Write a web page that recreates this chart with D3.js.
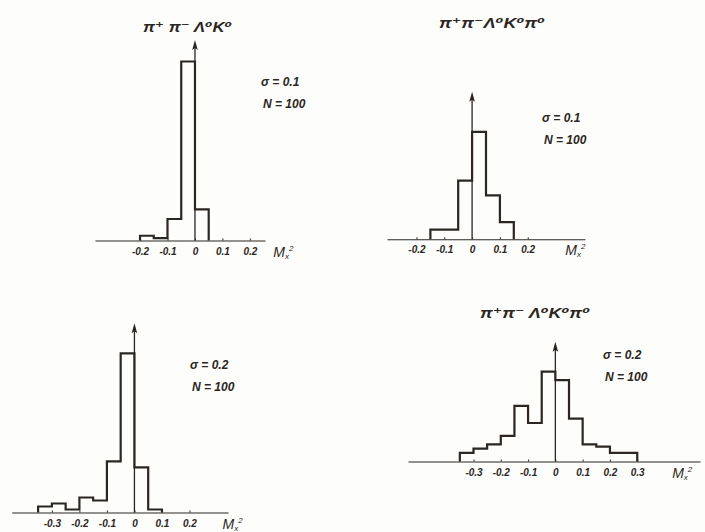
<!DOCTYPE html>
<html>
<head>
<meta charset="utf-8">
<script src="https://cdn.jsdelivr.net/npm/d3@7/dist/d3.min.js"></script>
<style>
  html, body { margin: 0; padding: 0; background: #fdfdfb; }
  svg { display: block; }
  text { font-family: 'Liberation Sans', 'DejaVu Sans', sans-serif; fill: #2b2622; }
</style>
</head>
<body>
<div id="viz"></div>
<script>
'use strict';

// tick labels
const ticksNarrow = [-0.2, -0.1, 0, 0.1, 0.2];
const ticksMid = [-0.3, -0.2, -0.1, 0, 0.1, 0.2];
const ticksWide = [-0.3, -0.2, -0.1, 0, 0.1, 0.2, 0.3];

// bin edges and counts
const edges1 = [-0.2, -0.15, -0.1, -0.05, 0, 0.05];
const counts1 = [2, 1, 9, 75, 13];

const edges2 = [-0.15, -0.1, -0.05, 0, 0.05, 0.1, 0.15];
const counts2 = [4, 4, 24, 44, 18, 7];

const edges3 = [-0.35, -0.3, -0.25, -0.2, -0.15, -0.1, -0.05, 0, 0.05, 0.1];
const counts3 = [2, 3, 1, 5, 4, 17, 53, 15, 1];

const edges4 = [-0.35, -0.3, -0.25, -0.2, -0.15, -0.1, -0.05, 0, 0.05, 0.1, 0.15, 0.2, 0.25, 0.3];
const counts4 = [2, 3, 4, 6, 13, 9, 21, 19, 10, 4, 3.5, 2, 2];

const titles = ['π⁺ π⁻ Λ⁰K⁰', 'π⁺π⁻Λ⁰K⁰π⁰', '', 'π⁺π⁻ Λ⁰K⁰π⁰'];
const sigmas = ['0.1', '0.1', '0.2', '0.2'];
const nEvents = ['100', '100', '100', '100'];

const W = 705, H = 532;
const ink = '#2b2622';

// where each panel sits on the page
const layout = [
  {edges: edges1, counts: counts1, ticks: ticksNarrow, dom: [-0.364, 0.255], xr: [95, 265],
   base: 240.5, top: 40, yMax: 84, titleX: 143, titleY: 32, titleW: 89, noteX: 261, noteY: 86, labX: 0.285},
  {edges: edges2, counts: counts2, ticks: ticksNarrow, dom: [-0.306, 0.406], xr: [387, 585],
   base: 239.3, top: 91.7, yMax: 60.4, titleX: 439, titleY: 28, titleW: 106, noteX: 542, noteY: 122, labX: 0.335},
  {edges: edges3, counts: counts3, ticks: ticksMid, dom: [-0.446, 0.34], xr: [11.7, 228],
   base: 512.5, top: 323.3, yMax: 63, titleX: 0, titleY: 0, titleW: 0, noteX: 190, noteY: 369, labX: 0.32},
  {edges: edges4, counts: counts4, ticks: ticksWide, dom: [-0.54, 0.53], xr: [408, 700],
   base: 461.5, top: 341.7, yMax: 28, titleX: 480, titleY: 318, titleW: 110, noteX: 603, noteY: 359, labX: 0.428}
];

const svg = d3.select('#viz')
  .append('svg')
    .attr('width', W)
    .attr('height', H);

const fmt = d => d === 0 ? '0' : d3.format('.1f')(d).replace('−', '-');

layout.forEach((p, i) => {
  const x = d3.scaleLinear().domain(p.dom).range(p.xr);
  const y = d3.scaleLinear().domain([0, p.yMax]).range([p.base, p.top]);
  const g = svg.append('g');

  // x axis
  const axis = g.append('g')
    .attr('transform', `translate(0,${p.base})`)
    .call(d3.axisBottom(x).tickValues(p.ticks).tickFormat(fmt).tickSize(2).tickSizeOuter(0).tickPadding(5));
  axis.select('.domain').attr('stroke', ink).attr('stroke-width', 1.1);
  axis.selectAll('.tick line').attr('stroke', ink).attr('y1', -2).attr('y2', 0);
  axis.selectAll('.tick text')
    .attr('font-size', 10)
    .attr('font-style', 'italic')
    .attr('font-weight', 'bold')
    .attr('fill', ink);

  // Mx^2 label
  const lab = g.append('text')
    .attr('x', x(p.labX))
    .attr('y', p.base + 16)
    .attr('font-size', 14)
    .attr('font-style', 'italic');
  lab.append('tspan').text('M');
  lab.append('tspan').attr('font-size', 8).attr('dy', 2).text('x');
  lab.append('tspan').attr('font-size', 8).attr('dy', -8).text('2');

  // vertical axis with arrow head
  const x0 = x(0), yTop = y(p.yMax);
  g.append('line')
    .attr('x1', x0).attr('x2', x0)
    .attr('y1', y(0)).attr('y2', yTop + 4)
    .attr('stroke', ink)
    .attr('stroke-width', 1.3);
  g.append('path')
    .attr('d', d3.line()([[x0, yTop], [x0 - 2.8, yTop + 10], [x0, yTop + 8], [x0 + 2.8, yTop + 10]]) + 'Z')
    .attr('fill', ink);

  // histogram outline
  const pts = [{x: p.edges[0], y: 0}];
  p.counts.forEach((c, k) => pts.push({x: p.edges[k], y: c}));
  pts.push({x: p.edges[p.edges.length - 1], y: 0});

  g.append('path')
    .datum(pts)
    .attr('fill', 'none')
    .attr('stroke', ink)
    .attr('stroke-width', 2.2)
    .attr('stroke-linejoin', 'miter')
    .attr('d', d3.line()
      .x(d => x(d.x))
      .y(d => y(d.y))
      .curve(d3.curveStepAfter)
    );

  if (titles[i]) {
    g.append('text')
      .attr('x', p.titleX)
      .attr('y', p.titleY)
      .attr('font-size', 14)
      .attr('font-weight', 'bold')
      .attr('font-style', 'italic')
      .attr('textLength', p.titleW)
      .attr('lengthAdjust', 'spacingAndGlyphs')
      .text(titles[i]);
  }

  g.append('text')
    .attr('x', p.noteX)
    .attr('y', p.noteY)
    .attr('font-size', 12)
    .attr('font-style', 'italic')
    .attr('font-weight', 'bold')
    .text('σ = ' + sigmas[i]);

  g.append('text')
    .attr('x', p.noteX + 2)
    .attr('y', p.noteY + 22)
    .attr('font-size', 12)
    .attr('font-style', 'italic')
    .attr('font-weight', 'bold')
    .text('N = ' + nEvents[i]);
});
</script>
</body>
</html>
